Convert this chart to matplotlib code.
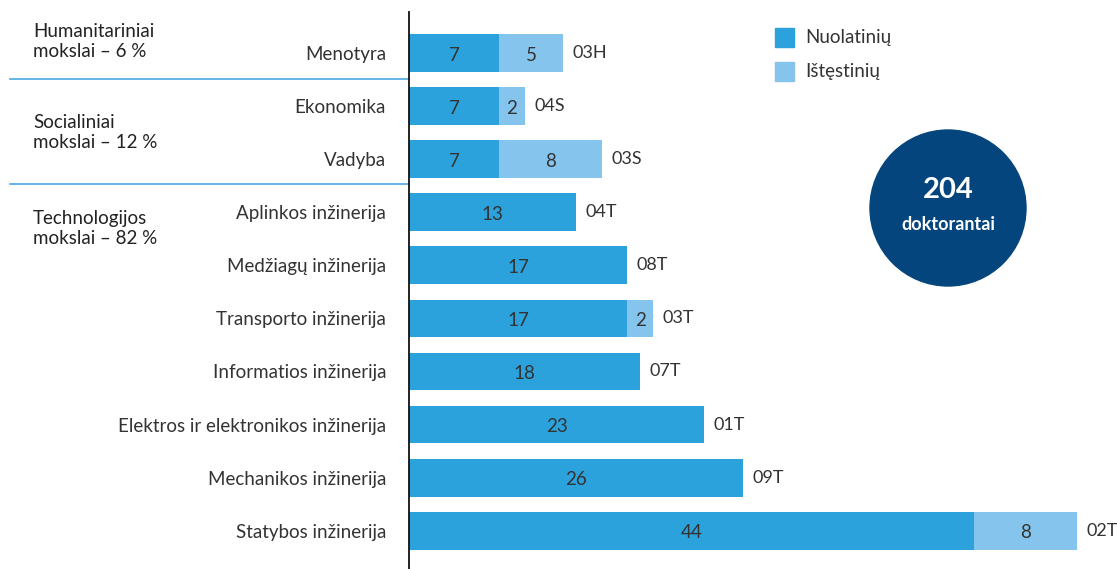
import numpy as np
import matplotlib
matplotlib.use("Agg")
import matplotlib.pyplot as plt
from matplotlib.patches import Ellipse, Rectangle
from matplotlib.transforms import blended_transform_factory

plt.rcParams['font.family'] = ['Lato', 'DejaVu Sans']

categories = ["Menotyra", "Ekonomika", "Vadyba", "Aplinkos inžinerija",
              "Medžiagų inžinerija", "Transporto inžinerija",
              "Informatios inžinerija", "Elektros ir elektronikos inžinerija",
              "Mechanikos inžinerija", "Statybos inžinerija"]
full_time = [7, 7, 7, 13, 17, 17, 18, 23, 26, 44]
part_time = [5, 2, 8, 0, 0, 2, 0, 0, 0, 8]
codes = ["03H", "04S", "03S", "04T", "08T", "03T", "07T", "01T", "09T", "02T"]
groups = ["Humanitariniai\nmokslai – 6 %", "Socialiniai\nmokslai – 12 %",
          "Technologijos\nmokslai – 82 %"]
group_pos = [-0.22, 1.5, 3.3]
separators = [0.5, 2.47]
legend_labels = ["Nuolatinių", "Ištęstinių"]
total = 204

c_full = "#2ba2dc"
c_part = "#85c4ec"
c_text = "#333333"
fs = 13.5

W, H = 1117, 569
fig = plt.figure(figsize=(W / 100, H / 100), dpi=100)
ax = fig.add_axes([409 / W, 0, 1 - 409 / W, 1 - 12 / H])

y = np.arange(len(categories))
ax.barh(y, full_time, height=0.71, color=c_full)
ax.barh(y, part_time, left=full_time, height=0.71, color=c_part)

for i in range(len(categories)):
    f, p = full_time[i], part_time[i]
    ax.text(f / 2, i + 0.04, str(f), ha="center", va="center", fontsize=fs, color=c_text)
    if p:
        ax.text(f + p / 2, i + 0.04, str(p), ha="center", va="center", fontsize=fs, color=c_text)
    ax.text(f + p + 0.75, i, codes[i], ha="left", va="center", fontsize=13, color=c_text)

ax.set_xlim(0, 708 / 12.84)
ax.set_ylim(9.72, -0.77)
ax.set_yticks(y)
ax.set_yticklabels(categories, fontsize=fs, color=c_text)
ax.tick_params(axis="y", length=0, pad=16.5)
ax.set_xticks([])
for s in ["top", "right", "bottom"]:
    ax.spines[s].set_visible(False)
ax.spines["left"].set_linewidth(1.3)
ax.spines["left"].set_color("#111111")

trans = blended_transform_factory(fig.transFigure, ax.transData)
for s in separators:
    ax.plot([10 / W, 409 / W], [s, s], transform=trans, color="#4aa8e0",
            linewidth=1.2, clip_on=False)
for g, r in zip(groups, group_pos):
    ax.text(33 / W, r, g, transform=trans, ha="left", va="center",
            fontsize=fs, color="#222222", linespacing=1.2)

# legend
for k, (lab, col) in enumerate(zip(legend_labels, [c_full, c_part])):
    yy = 37 + k * 34
    fig.add_artist(Rectangle(((775) / W, 1 - (yy + 9.5) / H), 19 / W, 19 / H,
                             transform=fig.transFigure, color=col))
    fig.text(805 / W, 1 - yy / H, lab, ha="left", va="center", fontsize=fs, color=c_text)

# circle
fig.add_artist(Ellipse((948 / W, 1 - 208 / H), 156 / W, 156 / H,
                       transform=fig.transFigure, color="#03457c"))
fig.text(948 / W, 1 - 190 / H, str(total), ha="center", va="center",
         fontsize=21, fontweight="bold", color="white")
fig.text(948 / W, 1 - 224 / H, "doktorantai", ha="center", va="center",
         fontsize=13, fontweight="bold", color="white")

fig.savefig("out.png", dpi=100)
